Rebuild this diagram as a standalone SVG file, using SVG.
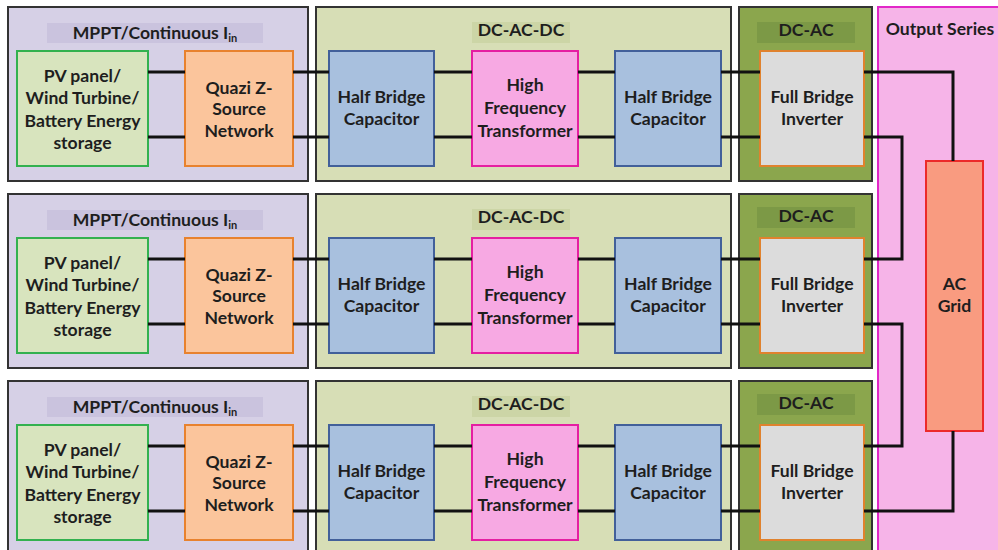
<svg xmlns="http://www.w3.org/2000/svg" width="998" height="550" viewBox="0 0 998 550">
<style>
text{font-family:Lato,"Liberation Sans",sans-serif;font-weight:bold;font-size:17.6px;fill:#1e1e1e;text-anchor:middle}
.cont{stroke:#333;stroke-width:2}
.mppt{fill:#d6d0e6}
.mpptband{fill:#cac3de}
.dcdc{fill:#d7deb6}
.dcdcband{fill:#ccd5a6}
.dcac{fill:#8ba64d}
.dcacband{fill:#7c9946}
.src{fill:#d8e4be;stroke:#33b14f;stroke-width:2}
.qz{fill:#fbc59c;stroke:#e8822e;stroke-width:2}
.hb{fill:#a8c0de;stroke:#42609a;stroke-width:2}
.hft{fill:#f7a9e3;stroke:#e51fa2;stroke-width:2}
.fb{fill:#dcdcdc;stroke:#e0822e;stroke-width:2}
.out{fill:#f6b4e8;stroke:#e227c8;stroke-width:2}
.grid{fill:#f99b80;stroke:#ec2a2a;stroke-width:2}
.wire{fill:none;stroke:#111;stroke-width:3}
.sub{font-size:11px}
</style>

<g id="output-series">
<rect class="out" x="878" y="7" width="125" height="550"/>
<text x="940" y="35">Output Series</text>
</g>

<g id="row1" transform="translate(0,0)">
<g id="r1-mppt"><rect class="cont mppt" x="8" y="7" width="300" height="174"/><rect class="mpptband" x="47" y="23" width="216" height="20"/><text x="155" y="39">MPPT/Continuous I<tspan class="sub" dy="3">in</tspan></text></g>
<g id="r1-dcacdc"><rect class="cont dcdc" x="316" y="7" width="415" height="174"/><rect class="dcdcband" x="472" y="22" width="98" height="21"/><text x="521" y="36">DC-AC-DC</text></g>
<g id="r1-dcac"><rect class="cont dcac" x="739" y="7" width="133" height="174"/><rect class="dcacband" x="757" y="22" width="98" height="21"/><text x="806" y="36">DC-AC</text></g>
<g id="r1-source"><rect class="src" x="17" y="51" width="131" height="115"/><text x="82.500" y="82">PV panel/</text><text x="82.500" y="104">Wind Turbine/</text><text x="82.500" y="127">Battery Energy</text><text x="82.500" y="149">storage</text></g>
<g id="r1-qz"><rect class="qz" x="185" y="51" width="108" height="115"/><text x="239" y="94">Quazi Z-</text><text x="239" y="115">Source</text><text x="239" y="137">Network</text></g>
<g id="r1-hb1"><rect class="hb" x="329" y="51" width="105" height="115"/><text x="381.500" y="103">Half Bridge</text><text x="381.500" y="125">Capacitor</text></g>
<g id="r1-hft"><rect class="hft" x="472" y="51" width="106" height="115"/><text x="525" y="91">High</text><text x="525" y="114">Frequency</text><text x="525" y="137">Transformer</text></g>
<g id="r1-hb2"><rect class="hb" x="615" y="51" width="106" height="115"/><text x="668" y="103">Half Bridge</text><text x="668" y="125">Capacitor</text></g>
<g id="r1-fb"><rect class="fb" x="760" y="51" width="104" height="115"/><text x="812" y="103">Full Bridge</text><text x="812" y="125">Inverter</text></g>
</g>

<g id="row2" transform="translate(0,187)">
<g id="r2-mppt"><rect class="cont mppt" x="8" y="7" width="300" height="174"/><rect class="mpptband" x="47" y="23" width="216" height="20"/><text x="155" y="39">MPPT/Continuous I<tspan class="sub" dy="3">in</tspan></text></g>
<g id="r2-dcacdc"><rect class="cont dcdc" x="316" y="7" width="415" height="174"/><rect class="dcdcband" x="472" y="22" width="98" height="21"/><text x="521" y="36">DC-AC-DC</text></g>
<g id="r2-dcac"><rect class="cont dcac" x="739" y="7" width="133" height="174"/><rect class="dcacband" x="757" y="20" width="98" height="21"/><text x="806" y="35">DC-AC</text></g>
<g id="r2-source"><rect class="src" x="17" y="51" width="131" height="115"/><text x="82.500" y="82">PV panel/</text><text x="82.500" y="104">Wind Turbine/</text><text x="82.500" y="127">Battery Energy</text><text x="82.500" y="149">storage</text></g>
<g id="r2-qz"><rect class="qz" x="185" y="51" width="108" height="115"/><text x="239" y="94">Quazi Z-</text><text x="239" y="115">Source</text><text x="239" y="137">Network</text></g>
<g id="r2-hb1"><rect class="hb" x="329" y="51" width="105" height="115"/><text x="381.500" y="103">Half Bridge</text><text x="381.500" y="125">Capacitor</text></g>
<g id="r2-hft"><rect class="hft" x="472" y="51" width="106" height="115"/><text x="525" y="91">High</text><text x="525" y="114">Frequency</text><text x="525" y="137">Transformer</text></g>
<g id="r2-hb2"><rect class="hb" x="615" y="51" width="106" height="115"/><text x="668" y="103">Half Bridge</text><text x="668" y="125">Capacitor</text></g>
<g id="r2-fb"><rect class="fb" x="760" y="51" width="104" height="115"/><text x="812" y="103">Full Bridge</text><text x="812" y="125">Inverter</text></g>
</g>

<g id="row3" transform="translate(0,374)">
<g id="r3-mppt"><rect class="cont mppt" x="8" y="7" width="300" height="174"/><rect class="mpptband" x="47" y="23" width="216" height="20"/><text x="155" y="39">MPPT/Continuous I<tspan class="sub" dy="3">in</tspan></text></g>
<g id="r3-dcacdc"><rect class="cont dcdc" x="316" y="7" width="415" height="174"/><rect class="dcdcband" x="472" y="22" width="98" height="21"/><text x="521" y="36">DC-AC-DC</text></g>
<g id="r3-dcac"><rect class="cont dcac" x="739" y="7" width="133" height="174"/><rect class="dcacband" x="757" y="20" width="98" height="21"/><text x="806" y="35">DC-AC</text></g>
<g id="r3-source"><rect class="src" x="17" y="51" width="131" height="115"/><text x="82.500" y="82">PV panel/</text><text x="82.500" y="104">Wind Turbine/</text><text x="82.500" y="127">Battery Energy</text><text x="82.500" y="149">storage</text></g>
<g id="r3-qz"><rect class="qz" x="185" y="51" width="108" height="115"/><text x="239" y="94">Quazi Z-</text><text x="239" y="115">Source</text><text x="239" y="137">Network</text></g>
<g id="r3-hb1"><rect class="hb" x="329" y="51" width="105" height="115"/><text x="381.500" y="103">Half Bridge</text><text x="381.500" y="125">Capacitor</text></g>
<g id="r3-hft"><rect class="hft" x="472" y="51" width="106" height="115"/><text x="525" y="91">High</text><text x="525" y="114">Frequency</text><text x="525" y="137">Transformer</text></g>
<g id="r3-hb2"><rect class="hb" x="615" y="51" width="106" height="115"/><text x="668" y="103">Half Bridge</text><text x="668" y="125">Capacitor</text></g>
<g id="r3-fb"><rect class="fb" x="760" y="51" width="104" height="115"/><text x="812" y="103">Full Bridge</text><text x="812" y="125">Inverter</text></g>
</g>

<g id="ac-grid">
<rect class="grid" x="926" y="161" width="57" height="270"/>
<text x="954.500" y="290">AC</text><text x="954.500" y="312">Grid</text>
</g>

<g id="connectors">
<path class="wire" d="M148 72H185M293 72H329M434 72H472M578 72H615M721 72H760M148 137H185M293 137H329M434 137H472M578 137H615M721 137H760"/>
<path class="wire" d="M148 259H185M293 259H329M434 259H472M578 259H615M721 259H760M148 324H185M293 324H329M434 324H472M578 324H615M721 324H760"/>
<path class="wire" d="M148 446H185M293 446H329M434 446H472M578 446H615M721 446H760M148 511H185M293 511H329M434 511H472M578 511H615M721 511H760"/>
<path class="wire" d="M864 72H953V161"/>
<path class="wire" d="M864 137H902V259H864"/>
<path class="wire" d="M864 324H902V446H864"/>
<path class="wire" d="M864 511H953V431"/>
</g>
</svg>
